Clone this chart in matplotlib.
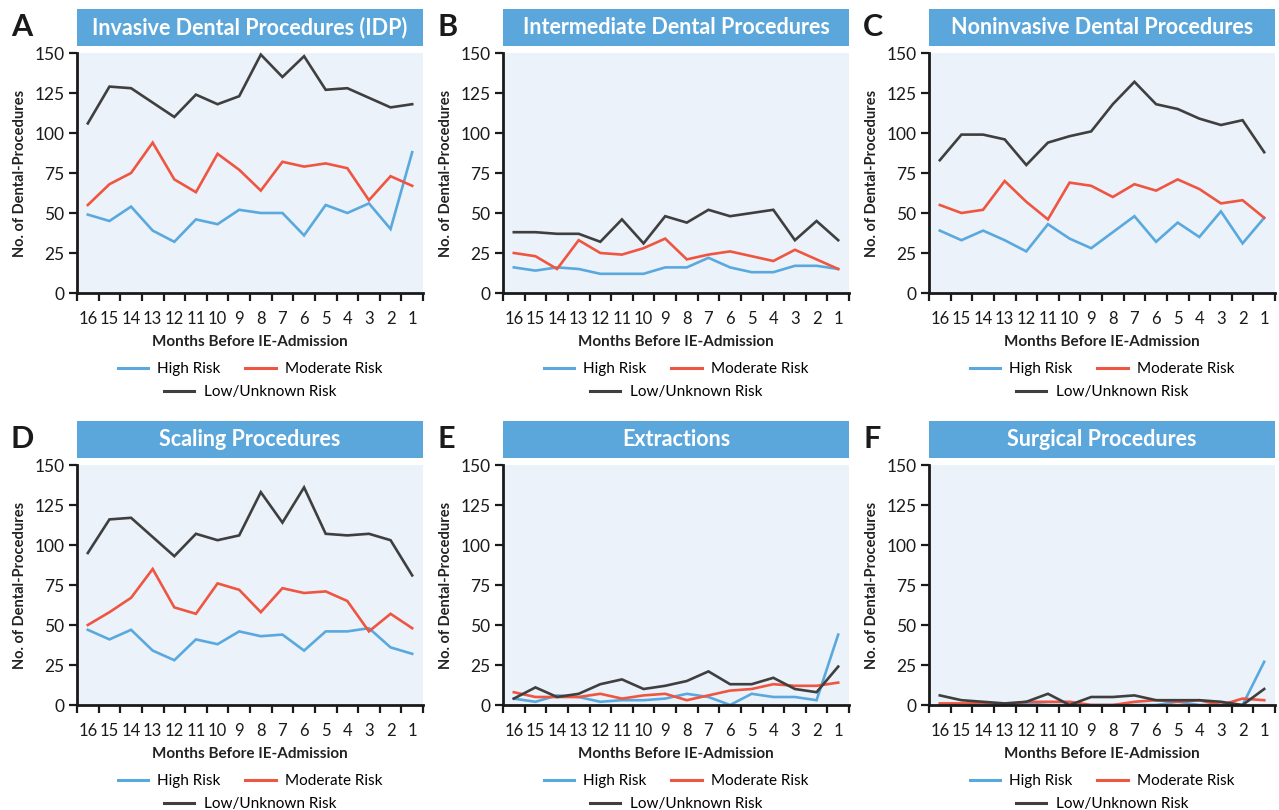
import matplotlib.pyplot as plt
from matplotlib.lines import Line2D
import numpy as np

plt.rcParams['font.family'] = ['Lato', 'DejaVu Sans']

months = [16, 15, 14, 13, 12, 11, 10, 9, 8, 7, 6, 5, 4, 3, 2, 1]
letters = ['A', 'B', 'C', 'D', 'E', 'F']
titles = ['Invasive Dental Procedures (IDP)', 'Intermediate Dental Procedures',
          'Noninvasive Dental Procedures', 'Scaling Procedures', 'Extractions',
          'Surgical Procedures']
risk_labels = ['High Risk', 'Moderate Risk', 'Low/Unknown Risk']

# A - invasive
a_high = [49, 45, 54, 39, 32, 46, 43, 52, 50, 50, 36, 55, 50, 56, 40, 88]
a_mod = [55, 68, 75, 94, 71, 63, 87, 77, 64, 82, 79, 81, 78, 58, 73, 67]
a_low = [106, 129, 128, 119, 110, 124, 118, 123, 149, 135, 148, 127, 128, 122, 116, 118]
# B - intermediate
b_high = [16, 14, 16, 15, 12, 12, 12, 16, 16, 22, 16, 13, 13, 17, 17, 15]
b_mod = [25, 23, 15, 33, 25, 24, 28, 34, 21, 24, 26, 23, 20, 27, 21, 15]
b_low = [38, 38, 37, 37, 32, 46, 31, 48, 44, 52, 48, 50, 52, 33, 45, 33]
# C - noninvasive
c_high = [39, 33, 39, 33, 26, 43, 34, 28, 38, 48, 32, 44, 35, 51, 31, 47]
c_mod = [55, 50, 52, 70, 57, 46, 69, 67, 60, 68, 64, 71, 65, 56, 58, 47]
c_low = [83, 99, 99, 96, 80, 94, 98, 101, 118, 132, 118, 115, 109, 105, 108, 88]
# D - scaling
d_high = [47, 41, 47, 34, 28, 41, 38, 46, 43, 44, 34, 46, 46, 48, 36, 32]
d_mod = [50, 58, 67, 85, 61, 57, 76, 72, 58, 73, 70, 71, 65, 46, 57, 48]
d_low = [95, 116, 117, 105, 93, 107, 103, 106, 133, 114, 136, 107, 106, 107, 103, 81]
# E - extractions
e_high = [4, 2, 6, 5, 2, 3, 3, 4, 7, 5, 0, 7, 5, 5, 3, 44]
e_mod = [8, 5, 5, 5, 7, 4, 6, 7, 3, 6, 9, 10, 13, 12, 12, 14]
e_low = [4, 11, 5, 7, 13, 16, 10, 12, 15, 21, 13, 13, 17, 10, 8, 24]
# F - surgical
f_high = [0, 0, 0, 0, 1, 0, 0, 0, 0, 0, 0, 2, 0, 0, 0, 27]
f_mod = [1, 1, 1, 0, 2, 2, 2, 0, 0, 2, 3, 2, 3, 0, 4, 3]
f_low = [6, 3, 2, 1, 2, 7, 0, 5, 5, 6, 3, 3, 3, 2, 0, 10]

panels = [(a_high, a_mod, a_low), (b_high, b_mod, b_low), (c_high, c_mod, c_low),
          (d_high, d_mod, d_low), (e_high, e_mod, e_low), (f_high, f_mod, f_low)]

colors = ['#5aa9de', '#ef5641', '#3f3f3f']
box_color = '#5ba7db'
bg_color = '#ebf2fa'

W, H = 1279, 810
fig = plt.figure(figsize=(W / 100, H / 100), dpi=100)

lefts = [77, 503, 929]
ax_w = 346
tops = [53, 465]
ax_h = 240
x = np.arange(len(months))

for i, (series, title, letter) in enumerate(zip(panels, titles, letters)):
    row, col = divmod(i, 3)
    left, top = lefts[col], tops[row]
    ax = fig.add_axes([left / W, (H - top - ax_h) / H, ax_w / W, ax_h / H])
    ax.set_facecolor(bg_color)
    for vals, c in zip(series, colors):
        ax.plot(x, vals, color=c, lw=1.9, solid_joinstyle='miter', clip_on=False)

    ax.set_xlim(-0.5, len(months) - 0.5)
    ax.set_ylim(0, 150)
    ax.set_yticks(np.arange(0, 151, 25))
    # tick marks sit between months, labels sit on the months
    ax.set_xticks(np.arange(-0.5, len(months), 1.0))
    ax.set_xticklabels([])
    ax.set_xticks(x, minor=True)
    ax.set_xticklabels([str(m) for m in months], minor=True)
    ax.tick_params(axis='x', which='major', direction='out', length=6, width=1.6, color='#1a1a1a')
    ax.tick_params(axis='x', which='minor', length=0, pad=13, labelsize=12, labelcolor='#1a1a1a')
    ax.tick_params(axis='y', direction='out', length=6, width=1.6, color='#1a1a1a',
                   labelsize=12.5, labelcolor='#1a1a1a', pad=3)
    for s in ['top', 'right']:
        ax.spines[s].set_visible(False)
    for s in ['left', 'bottom']:
        ax.spines[s].set_linewidth(2.0)
        ax.spines[s].set_color('#1a1a1a')

    ax.set_xlabel('Months Before IE-Admission', fontsize=11, fontweight='bold',
                  color='#222222', labelpad=6)
    ax.set_ylabel('No. of Dental-Procedures', fontsize=10.5, fontweight='bold',
                  color='#222222', labelpad=5)

    handles = [Line2D([0], [0], color=c, lw=2.2) for c in colors]
    leg1 = ax.legend(handles[:2], risk_labels[:2], ncol=2, loc='center',
                     bbox_to_anchor=(0.5, -0.318), frameon=False, fontsize=11,
                     handlelength=2.0, columnspacing=1.6, handletextpad=0.6)
    ax.add_artist(leg1)
    ax.legend(handles[2:], risk_labels[2:], loc='center',
              bbox_to_anchor=(0.5, -0.414), frameon=False, fontsize=11,
              handlelength=2.0, handletextpad=0.6)

    # title banner above each panel
    box_top = top - 44
    tax = fig.add_axes([left / W, (H - box_top - 37) / H, ax_w / W, 37 / H])
    tax.set_facecolor(box_color)
    tax.set_xticks([])
    tax.set_yticks([])
    for s in tax.spines.values():
        s.set_visible(False)
    tax.text(0.5, 0.5, title, color='white', fontsize=15.5, fontweight='bold',
             ha='center', va='center', transform=tax.transAxes)

    fig.text((left - 66) / W, (H - box_top - 18) / H, letter, fontsize=22,
             fontweight='bold', color='#1a1a1a', ha='left', va='center')

fig.savefig('out.png', dpi=100, facecolor='white')
